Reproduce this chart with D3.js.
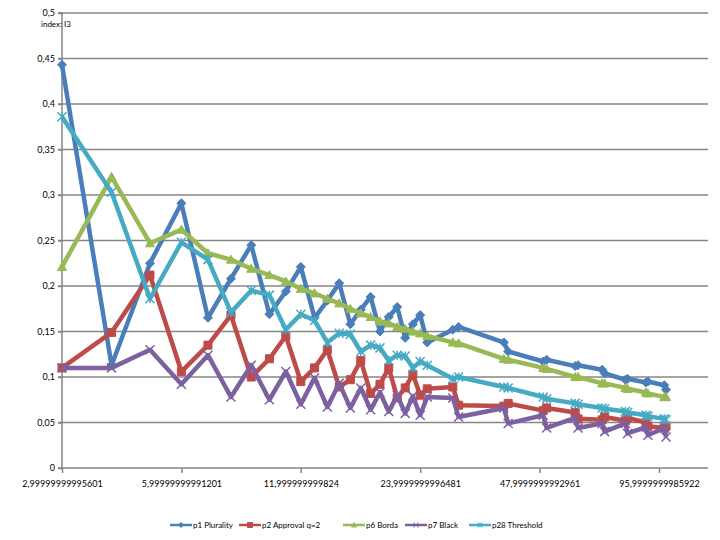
<!DOCTYPE html>
<html><head><meta charset="utf-8">
<script src="https://cdn.jsdelivr.net/npm/d3@7"></script>
<style>body{margin:0;background:#fff}svg{display:block}text{font-family:Lato,"Open Sans",sans-serif}</style>
</head><body><svg id="c" width="720" height="540"></svg>
<script>
const xValues = [3,4,5,6,7,8,9,10,11,12,13,14,15,16,17,18,19,20,21,22,23,24,25,29,30,39,40,49,50,59,60,69,70,79,80,89,90,99,100];
const p1Plurality = [0.443,0.113,0.225,0.291,0.165,0.208,0.245,0.169,0.194,0.221,0.165,0.184,0.203,0.158,0.174,0.188,0.150,0.166,0.177,0.143,0.158,0.168,0.138,0.152,0.155,0.138,0.128,0.117,0.119,0.112,0.113,0.108,0.104,0.097,0.098,0.094,0.095,0.091,0.086];
const p2Approval = [0.110,0.149,0.212,0.106,0.135,0.168,0.100,0.120,0.145,0.095,0.110,0.130,0.089,0.097,0.118,0.082,0.092,0.110,0.077,0.088,0.103,0.080,0.087,0.089,0.069,0.068,0.071,0.063,0.066,0.061,0.054,0.053,0.056,0.052,0.055,0.050,0.046,0.044,0.046];
const p6Borda = [0.221,0.320,0.247,0.262,0.236,0.229,0.219,0.212,0.205,0.197,0.192,0.186,0.181,0.175,0.170,0.166,0.161,0.159,0.155,0.153,0.150,0.148,0.145,0.138,0.137,0.120,0.119,0.110,0.109,0.100,0.100,0.093,0.093,0.088,0.087,0.083,0.082,0.078,0.078];
const p7Black = [0.110,0.110,0.130,0.092,0.124,0.078,0.113,0.075,0.106,0.070,0.099,0.067,0.093,0.066,0.088,0.064,0.083,0.062,0.080,0.060,0.079,0.058,0.078,0.077,0.056,0.066,0.049,0.058,0.044,0.055,0.044,0.049,0.040,0.049,0.038,0.045,0.036,0.044,0.034];
const p28Threshold = [0.386,0.303,0.186,0.248,0.229,0.171,0.195,0.190,0.152,0.169,0.162,0.138,0.148,0.147,0.128,0.135,0.132,0.118,0.124,0.123,0.110,0.117,0.113,0.098,0.100,0.089,0.088,0.078,0.076,0.071,0.070,0.066,0.065,0.062,0.061,0.058,0.057,0.054,0.053];
const seriesNames = ["p1 Plurality","p2 Approval q=2","p6 Borda","p7 Black","p28 Threshold"];
const seriesColors = ["#4A7EBB","#BE4B48","#98B954","#7D60A0","#46AAC5"];
const seriesMarkers = ["diamond","square","triangle","x","star"];
const xTickValues = [3,6,12,24,48,96];
const xTickLabels = ["2,99999999995601","5,99999999991201","11,999999999824","23,9999999996481","47,9999999992961","95,9999999985922"];
const yTickValues = [0,0.05,0.1,0.15,0.2,0.25,0.3,0.35,0.4,0.45,0.5];
const annotation = "index: I3";

const allSeries = [p1Plurality,p2Approval,p6Borda,p7Black,p28Threshold];
const svg = d3.select("#c");
const L = 62, R = 708, T = 13, B = 468;
const x = d3.scaleLog().base(2).domain([3,96]).range([L,659]);
const y = d3.scaleLinear().domain([0,0.5]).range([B,T]);
const fmt = d => d3.format(".2~f")(d).replace(".",",");

// gridlines
svg.append("g").selectAll("line").data(yTickValues.slice(1)).join("line")
  .attr("x1",L-4).attr("x2",R).attr("y1",d=>y(d)).attr("y2",d=>y(d))
  .attr("stroke","#868686").attr("stroke-width",1.5);

// y axis
const ya = svg.append("g").attr("transform",`translate(${L},0)`)
  .call(d3.axisLeft(y).tickValues(yTickValues).tickFormat(fmt).tickSize(4).tickPadding(3));
ya.select(".domain").attr("stroke","#868686").attr("stroke-width",1.5).attr("d",`M-4,${T}H0V${B}H-4`);
ya.selectAll(".tick line").attr("stroke","#868686").attr("stroke-width",1.5);
ya.selectAll("text").attr("font-size",9).attr("fill","#000");

// x axis
const xa = svg.append("g").attr("transform",`translate(0,${B})`)
  .call(d3.axisBottom(x).tickValues(xTickValues).tickFormat((d,i)=>xTickLabels[i]).tickSize(5).tickPadding(8));
xa.select(".domain").attr("stroke","#868686").attr("stroke-width",1.5).attr("d",`M${L},0H${R}`);
xa.selectAll(".tick line").attr("stroke","#868686").attr("stroke-width",1.5);
xa.selectAll("text").attr("font-size",9).attr("fill","#000");

svg.append("text").attr("x",41).attr("y",27).attr("font-size",8).text(annotation);

function markerPath(type, s){
  const h = s/2;
  switch(type){
    case "diamond": return `M0,${-h}L${h},0L0,${h}L${-h},0Z`;
    case "square": return `M${-h},${-h}H${h}V${h}H${-h}Z`;
    case "triangle": return `M0,${-h}L${h},${h*0.8}L${-h},${h*0.8}Z`;
    case "x": return `M${-h},${-h}L${h},${h}M${-h},${h}L${h},${-h}`;
    case "star": return `M${-h},${-h}L${h},${h}M${-h},${h}L${h},${-h}M0,${-h}V${h}`;
  }
}
const line = d3.line().x((d,i)=>x(xValues[i])).y(d=>y(d));
allSeries.forEach((vals,si)=>{
  const g = svg.append("g");
  g.append("path").attr("d",line(vals)).attr("fill","none")
    .attr("stroke",seriesColors[si]).attr("stroke-width",4.5).attr("stroke-linejoin","round");
  const m = seriesMarkers[si];
  const filled = m==="diamond"||m==="square"||m==="triangle";
  g.selectAll("path.m").data(vals).join("path").attr("class","m")
    .attr("transform",(d,i)=>`translate(${x(xValues[i])},${y(d)})`)
    .attr("d",markerPath(m, m==="square"?8:9))
    .attr("fill",filled?seriesColors[si]:"none")
    .attr("stroke",seriesColors[si]).attr("stroke-width",filled?1:1.5);
});

// legend
const legX = [170,239,343,405,469];
const lg = svg.append("g").attr("transform","translate(0,525)");
seriesNames.forEach((n,i)=>{
  const g = lg.append("g").attr("transform",`translate(${legX[i]},0)`);
  g.append("line").attr("x1",0).attr("x2",22).attr("stroke",seriesColors[i]).attr("stroke-width",2.5);
  g.append("path").attr("transform","translate(11,0)").attr("d",markerPath(seriesMarkers[i],5))
    .attr("fill",seriesColors[i]).attr("stroke",seriesColors[i]).attr("stroke-width",1);
  g.append("text").attr("x",23).attr("y",3).attr("font-size",8).text(n);
});
</script></body></html>
